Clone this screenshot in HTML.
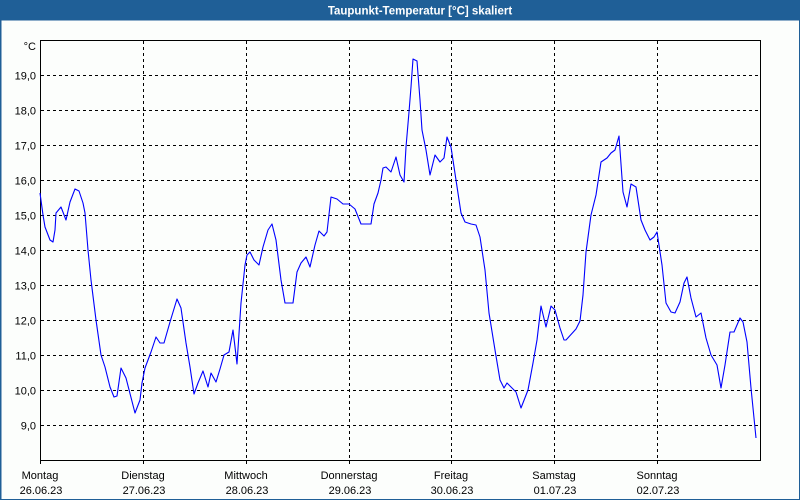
<!DOCTYPE html>
<html>
<head>
<meta charset="utf-8">
<style>
html,body{margin:0;padding:0;background:#fcfefc;}
svg{display:block;}
text{font-family:"Liberation Sans","DejaVu Sans",sans-serif;}
</style>
</head>
<body>
<svg width="800" height="500" viewBox="0 0 800 500" xmlns="http://www.w3.org/2000/svg">
  <rect x="0" y="0" width="800" height="500" fill="#fcfefc"/>
  <!-- title bar -->
  <rect x="0" y="0" width="800" height="20" fill="#1f5f97"/>
  <text x="420" y="14.5" fill="#ffffff" font-size="11.5" font-weight="bold" text-anchor="middle">Taupunkt-Temperatur [°C] skaliert</text>
  <!-- outer border -->
  <rect x="0.5" y="20" width="799" height="479.5" fill="none" stroke="#1f5f97" stroke-width="1"/>
  <line x1="1" y1="20" x2="1" y2="500" stroke="#1f5f97" stroke-width="1"/>

  <!-- grid -->
  <g stroke="#000" stroke-width="1" stroke-dasharray="3,3" shape-rendering="crispEdges">
    <line x1="143.5" y1="41" x2="143.5" y2="464"/>
    <line x1="246.5" y1="41" x2="246.5" y2="464"/>
    <line x1="349.5" y1="41" x2="349.5" y2="464"/>
    <line x1="451.5" y1="41" x2="451.5" y2="464"/>
    <line x1="554.5" y1="41" x2="554.5" y2="464"/>
    <line x1="657.5" y1="41" x2="657.5" y2="464"/>
    <line x1="41" y1="75.5" x2="760" y2="75.5"/>
    <line x1="41" y1="110.5" x2="760" y2="110.5"/>
    <line x1="41" y1="145.5" x2="760" y2="145.5"/>
    <line x1="41" y1="180.5" x2="760" y2="180.5"/>
    <line x1="41" y1="215.5" x2="760" y2="215.5"/>
    <line x1="41" y1="250.5" x2="760" y2="250.5"/>
    <line x1="41" y1="285.5" x2="760" y2="285.5"/>
    <line x1="41" y1="320.5" x2="760" y2="320.5"/>
    <line x1="41" y1="355.5" x2="760" y2="355.5"/>
    <line x1="41" y1="390.5" x2="760" y2="390.5"/>
    <line x1="41" y1="425.5" x2="760" y2="425.5"/>
  </g>

  <!-- plot frame -->
  <g stroke="#000" stroke-width="1" fill="none" shape-rendering="crispEdges">
    <rect x="40.5" y="40.5" width="720" height="420"/>
    <line x1="40.5" y1="460" x2="40.5" y2="464"/>
  </g>

  <!-- data -->
  <polyline fill="none" stroke="#0000ff" stroke-width="1.1" stroke-linejoin="round"
    points="40,193 43,215 45,227 50,240 53,242 55,230 56,213 61,207 66,220 70,202 75,189 79,191 83,203 85,213 88,250 91,280 96,320 101,355 105,367 110,387 114,397 117,396 121,368 126,378 135,413 140,400 142,383 145,368 151,352 156,337 160,343 164,343 170,322 177,299 181,308 186,343 190,367 194,394 198,383 203,371 208,387 211,373 216,382 220,369 224,355 229,352 233,330 237,364 241,303 245,265 247,255 250,252 254,260 259,265 263,247 268,230 272,224 276,240 281,280 285,303 293,303 297,272 301,263 306,257 310,267 315,245 319,231 324,236 327,232 331,197 337,199 343,204 349,204 355,209 361,224 371,224 374,204 378,193 381,180 383,168 386,167 391,172 396,157 400,175 404,182 406,147 409,112 411,87 413,59 417,61 420,100 422,130 426,150 430,175 435,155 440,162 444,158 447,137 451,147 456,180 461,213 465,222 471,224 476,225 480,237 485,270 489,313 495,350 500,380 504,388 507,383 514,390 516,392 521,408 528,390 533,363 537,340 541,306 546,327 551,306 555,310 560,328 564,340 566,340 576,329 580,321 583,295 586,252 591,215 596,195 601,162 607,158 611,153 615,150 619,136 623,192 627,207 631,184 636,187 641,220 645,230 650,240 654,237 657,232 662,265 666,303 671,312 675,313 680,302 684,283 687,277 691,298 696,317 701,313 706,338 711,355 717,365 721,388 725,365 730,332 734,332 740,318 743,322 747,342 751,388 756,438"/>

  <!-- y labels -->
  <g font-size="11" fill="#000" text-anchor="end">
    <text x="36" y="50">°C</text>
    <text x="36" y="79.5">19,0</text>
    <text x="36" y="114.5">18,0</text>
    <text x="36" y="149.5">17,0</text>
    <text x="36" y="184.5">16,0</text>
    <text x="36" y="219.5">15,0</text>
    <text x="36" y="254.5">14,0</text>
    <text x="36" y="289.5">13,0</text>
    <text x="36" y="324.5">12,0</text>
    <text x="36" y="359.5">11,0</text>
    <text x="36" y="394.5">10,0</text>
    <text x="36" y="429.5">9,0</text>
  </g>

  <!-- x labels -->
  <g font-size="11" fill="#000" text-anchor="middle">
    <text x="40" y="479">Montag</text>
    <text x="41" y="494">26.06.23</text>
    <text x="143" y="479">Dienstag</text>
    <text x="144" y="494">27.06.23</text>
    <text x="246" y="479">Mittwoch</text>
    <text x="247" y="494">28.06.23</text>
    <text x="349" y="479">Donnerstag</text>
    <text x="350" y="494">29.06.23</text>
    <text x="451" y="479">Freitag</text>
    <text x="452" y="494">30.06.23</text>
    <text x="554" y="479">Samstag</text>
    <text x="555" y="494">01.07.23</text>
    <text x="657" y="479">Sonntag</text>
    <text x="658" y="494">02.07.23</text>
  </g>
</svg>
</body>
</html>
